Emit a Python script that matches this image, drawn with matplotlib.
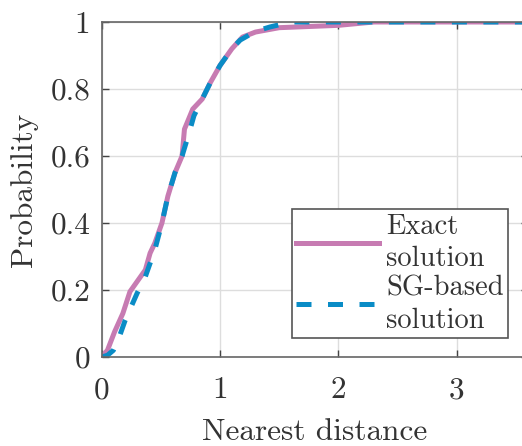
import numpy as np
import matplotlib.pyplot as plt

plt.rcParams['font.family'] = ['cmr10', 'DejaVu Serif']
plt.rcParams['axes.formatter.use_mathtext'] = True

# exact solution CDF
x_exact = [0, 0.05, 0.11, 0.18, 0.24, 0.30, 0.37, 0.41, 0.45, 0.51, 0.56, 0.62,
           0.68, 0.70, 0.77, 0.85, 0.92, 1.0, 1.1, 1.19, 1.3, 1.5, 2.0, 2.3, 3.6]
y_exact = [0, 0.02, 0.075, 0.13, 0.195, 0.225, 0.26, 0.31, 0.34, 0.40, 0.48, 0.55,
           0.60, 0.68, 0.74, 0.77, 0.82, 0.87, 0.92, 0.955, 0.97, 0.983, 0.99, 1.0, 1.0]
# SG-based solution CDF
x_sg = [0, 0.05, 0.1, 0.15, 0.2, 0.25, 0.3, 0.37, 0.45, 0.51, 0.56, 0.62, 0.68,
        0.74, 0.78, 0.85, 0.92, 1.0, 1.1, 1.17, 1.3, 1.42, 1.6, 3.6]
y_sg = [0, 0.005, 0.02, 0.06, 0.11, 0.15, 0.19, 0.24, 0.32, 0.40, 0.48, 0.55, 0.60,
        0.67, 0.72, 0.77, 0.82, 0.87, 0.92, 0.946, 0.972, 0.985, 1.0, 1.0]

xticks = [0, 1, 2, 3]
yticks = [0, 0.2, 0.4, 0.6, 0.8, 1]
yticklabels = ['0', '0.2', '0.4', '0.6', '0.8', '1']

fig = plt.figure(figsize=(5.22, 4.46), dpi=100)
ax = fig.add_axes([0.1945, 0.1996, 0.8170, 0.7511])

ax.plot(x_exact, y_exact, color='#C77BB2', lw=3.6, label='Exact\nsolution')
ax.plot(x_sg, y_sg, color='#0A8CC6', lw=3.6, ls=(0, (3.0, 3.3)), label='SG-based\nsolution')

ax.set_xlim(0, 3.6)
ax.set_ylim(0, 1)
ax.set_xticks(xticks)
ax.set_xticklabels([str(t) for t in xticks])
ax.set_yticks(yticks)
ax.set_yticklabels(yticklabels)
ax.grid(True, color='#dddddd', lw=1)
ax.set_axisbelow(True)
for s in ax.spines.values():
    s.set_color('#666666')
    s.set_linewidth(1.2)
ax.tick_params(direction='in', length=5, width=1, color='#444444', top=True, right=True,
               labelsize=22.5, labelcolor='#333333')
ax.tick_params(axis='x', pad=14)
ax.tick_params(axis='y', pad=8)
ax.set_xlabel('Nearest distance', fontsize=22.5, color='#333333', labelpad=10)
ax.set_ylabel('Probability', fontsize=22.5, color='#333333', labelpad=9)

leg = ax.legend(loc='lower right', bbox_to_anchor=(0.953, 0.057), borderaxespad=0,
                fontsize=20.5, handlelength=2.9, handletextpad=0.25, borderpad=0.15,
                labelspacing=0.1, fancybox=False, framealpha=1, edgecolor='#555555')
leg.get_frame().set_linewidth(1.2)
for t in leg.get_texts():
    t.set_color('#333333')
    t.set_linespacing(1.3)

fig.savefig('out.png', dpi=100)
